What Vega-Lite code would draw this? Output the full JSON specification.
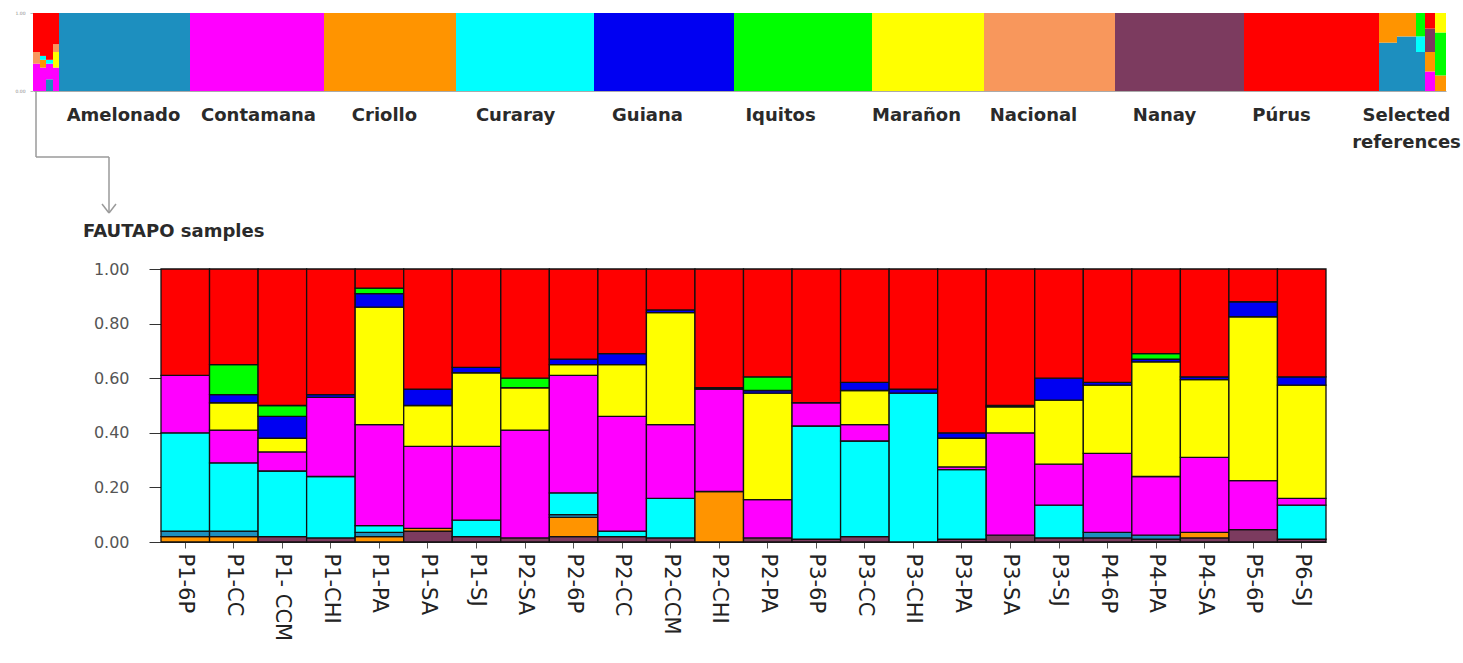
{
  "$schema": "https://vega.github.io/schema/vega-lite/v6.json",
  "padding": {"left": 14, "top": 10, "right": 5, "bottom": 5},
  "autosize": {"type": "pad"},
  "bounds": "flush",
  "spacing": 178,
  "datasets": {
    "clusters": [
      {"cluster": "Nanay", "k": 1},
      {"cluster": "Criollo", "k": 2},
      {"cluster": "Nacional", "k": 3},
      {"cluster": "Amelonado", "k": 4},
      {"cluster": "Curaray", "k": 5},
      {"cluster": "Contamana", "k": 6},
      {"cluster": "Marañon", "k": 7},
      {"cluster": "Guiana", "k": 8},
      {"cluster": "Iquitos", "k": 9},
      {"cluster": "Púrus", "k": 10}
    ],
    "strip": [
      {"col": "m1", "start": 0, "end": 7, "cluster": "Contamana", "q": 0.35},
      {"col": "m1", "start": 0, "end": 7, "cluster": "Nacional", "q": 0.15},
      {"col": "m1", "start": 0, "end": 7, "cluster": "Púrus", "q": 0.50},
      {"col": "m2", "start": 7, "end": 13, "cluster": "Contamana", "q": 0.30},
      {"col": "m2", "start": 7, "end": 13, "cluster": "Criollo", "q": 0.10},
      {"col": "m2", "start": 7, "end": 13, "cluster": "Curaray", "q": 0.05},
      {"col": "m2", "start": 7, "end": 13, "cluster": "Púrus", "q": 0.55},
      {"col": "m3", "start": 13, "end": 20, "cluster": "Amelonado", "q": 0.15},
      {"col": "m3", "start": 13, "end": 20, "cluster": "Contamana", "q": 0.20},
      {"col": "m3", "start": 13, "end": 20, "cluster": "Curaray", "q": 0.05},
      {"col": "m3", "start": 13, "end": 20, "cluster": "Púrus", "q": 0.60},
      {"col": "m4", "start": 20, "end": 26, "cluster": "Contamana", "q": 0.30},
      {"col": "m4", "start": 20, "end": 26, "cluster": "Marañon", "q": 0.20},
      {"col": "m4", "start": 20, "end": 26, "cluster": "Nacional", "q": 0.10},
      {"col": "m4", "start": 20, "end": 26, "cluster": "Púrus", "q": 0.40},
      {"col": "Amelonado", "start": 26, "end": 157, "cluster": "Amelonado", "q": 1},
      {"col": "Contamana", "start": 157, "end": 291, "cluster": "Contamana", "q": 1},
      {"col": "Criollo", "start": 291, "end": 423, "cluster": "Criollo", "q": 1},
      {"col": "Curaray", "start": 423, "end": 561, "cluster": "Curaray", "q": 1},
      {"col": "Guiana", "start": 561, "end": 701, "cluster": "Guiana", "q": 1},
      {"col": "Iquitos", "start": 701, "end": 839, "cluster": "Iquitos", "q": 1},
      {"col": "Marañon", "start": 839, "end": 951, "cluster": "Marañon", "q": 1},
      {"col": "Nacional", "start": 951, "end": 1082, "cluster": "Nacional", "q": 1},
      {"col": "Nanay", "start": 1082, "end": 1211, "cluster": "Nanay", "q": 1},
      {"col": "Púrus", "start": 1211, "end": 1346, "cluster": "Púrus", "q": 1},
      {"col": "s1", "start": 1346, "end": 1364, "cluster": "Amelonado", "q": 0.62},
      {"col": "s1", "start": 1346, "end": 1364, "cluster": "Criollo", "q": 0.38},
      {"col": "s2", "start": 1364, "end": 1383, "cluster": "Amelonado", "q": 0.70},
      {"col": "s2", "start": 1364, "end": 1383, "cluster": "Criollo", "q": 0.30},
      {"col": "s3", "start": 1383, "end": 1392, "cluster": "Amelonado", "q": 0.50},
      {"col": "s3", "start": 1383, "end": 1392, "cluster": "Curaray", "q": 0.20},
      {"col": "s3", "start": 1383, "end": 1392, "cluster": "Iquitos", "q": 0.30},
      {"col": "s4", "start": 1392, "end": 1402, "cluster": "Contamana", "q": 0.25},
      {"col": "s4", "start": 1392, "end": 1402, "cluster": "Criollo", "q": 0.25},
      {"col": "s4", "start": 1392, "end": 1402, "cluster": "Nanay", "q": 0.30},
      {"col": "s4", "start": 1392, "end": 1402, "cluster": "Púrus", "q": 0.20},
      {"col": "s5", "start": 1402, "end": 1413, "cluster": "Criollo", "q": 0.20},
      {"col": "s5", "start": 1402, "end": 1413, "cluster": "Iquitos", "q": 0.55},
      {"col": "s5", "start": 1402, "end": 1413, "cluster": "Marañon", "q": 0.25}
    ],
    "connector": [
      {"start": 3, "end": 3, "y0": 0, "y1": -0.846},
      {"start": 3, "end": 76, "y0": -0.846, "y1": -0.846},
      {"start": 76, "end": 76, "y0": -0.846, "y1": -1.564},
      {"start": 69, "end": 76, "y0": -1.449, "y1": -1.564},
      {"start": 83, "end": 76, "y0": -1.449, "y1": -1.564}
    ],
    "samples": [
      {"sample": "P1-6P", "cluster": "Criollo", "q": 0.02},
      {"sample": "P1-6P", "cluster": "Amelonado", "q": 0.02},
      {"sample": "P1-6P", "cluster": "Curaray", "q": 0.36},
      {"sample": "P1-6P", "cluster": "Contamana", "q": 0.21},
      {"sample": "P1-6P", "cluster": "Púrus", "q": 0.39},
      {"sample": "P1-CC", "cluster": "Criollo", "q": 0.02},
      {"sample": "P1-CC", "cluster": "Amelonado", "q": 0.02},
      {"sample": "P1-CC", "cluster": "Curaray", "q": 0.25},
      {"sample": "P1-CC", "cluster": "Contamana", "q": 0.12},
      {"sample": "P1-CC", "cluster": "Marañon", "q": 0.10},
      {"sample": "P1-CC", "cluster": "Guiana", "q": 0.03},
      {"sample": "P1-CC", "cluster": "Iquitos", "q": 0.11},
      {"sample": "P1-CC", "cluster": "Púrus", "q": 0.35},
      {"sample": "P1- CCM", "cluster": "Nanay", "q": 0.02},
      {"sample": "P1- CCM", "cluster": "Curaray", "q": 0.24},
      {"sample": "P1- CCM", "cluster": "Contamana", "q": 0.07},
      {"sample": "P1- CCM", "cluster": "Marañon", "q": 0.05},
      {"sample": "P1- CCM", "cluster": "Guiana", "q": 0.08},
      {"sample": "P1- CCM", "cluster": "Iquitos", "q": 0.04},
      {"sample": "P1- CCM", "cluster": "Púrus", "q": 0.50},
      {"sample": "P1-CHI", "cluster": "Nanay", "q": 0.015},
      {"sample": "P1-CHI", "cluster": "Curaray", "q": 0.225},
      {"sample": "P1-CHI", "cluster": "Contamana", "q": 0.29},
      {"sample": "P1-CHI", "cluster": "Guiana", "q": 0.01},
      {"sample": "P1-CHI", "cluster": "Púrus", "q": 0.46},
      {"sample": "P1-PA", "cluster": "Criollo", "q": 0.02},
      {"sample": "P1-PA", "cluster": "Amelonado", "q": 0.015},
      {"sample": "P1-PA", "cluster": "Curaray", "q": 0.025},
      {"sample": "P1-PA", "cluster": "Contamana", "q": 0.37},
      {"sample": "P1-PA", "cluster": "Marañon", "q": 0.43},
      {"sample": "P1-PA", "cluster": "Guiana", "q": 0.05},
      {"sample": "P1-PA", "cluster": "Iquitos", "q": 0.02},
      {"sample": "P1-PA", "cluster": "Púrus", "q": 0.07},
      {"sample": "P1-SA", "cluster": "Nanay", "q": 0.04},
      {"sample": "P1-SA", "cluster": "Criollo", "q": 0.01},
      {"sample": "P1-SA", "cluster": "Contamana", "q": 0.30},
      {"sample": "P1-SA", "cluster": "Marañon", "q": 0.15},
      {"sample": "P1-SA", "cluster": "Guiana", "q": 0.06},
      {"sample": "P1-SA", "cluster": "Púrus", "q": 0.44},
      {"sample": "P1-SJ", "cluster": "Nanay", "q": 0.02},
      {"sample": "P1-SJ", "cluster": "Curaray", "q": 0.06},
      {"sample": "P1-SJ", "cluster": "Contamana", "q": 0.27},
      {"sample": "P1-SJ", "cluster": "Marañon", "q": 0.27},
      {"sample": "P1-SJ", "cluster": "Guiana", "q": 0.02},
      {"sample": "P1-SJ", "cluster": "Púrus", "q": 0.36},
      {"sample": "P2-SA", "cluster": "Nanay", "q": 0.015},
      {"sample": "P2-SA", "cluster": "Contamana", "q": 0.395},
      {"sample": "P2-SA", "cluster": "Marañon", "q": 0.155},
      {"sample": "P2-SA", "cluster": "Iquitos", "q": 0.035},
      {"sample": "P2-SA", "cluster": "Púrus", "q": 0.40},
      {"sample": "P2-6P", "cluster": "Nanay", "q": 0.02},
      {"sample": "P2-6P", "cluster": "Criollo", "q": 0.07},
      {"sample": "P2-6P", "cluster": "Amelonado", "q": 0.01},
      {"sample": "P2-6P", "cluster": "Curaray", "q": 0.08},
      {"sample": "P2-6P", "cluster": "Contamana", "q": 0.43},
      {"sample": "P2-6P", "cluster": "Marañon", "q": 0.04},
      {"sample": "P2-6P", "cluster": "Guiana", "q": 0.02},
      {"sample": "P2-6P", "cluster": "Púrus", "q": 0.33},
      {"sample": "P2-CC", "cluster": "Nanay", "q": 0.02},
      {"sample": "P2-CC", "cluster": "Curaray", "q": 0.02},
      {"sample": "P2-CC", "cluster": "Contamana", "q": 0.42},
      {"sample": "P2-CC", "cluster": "Marañon", "q": 0.19},
      {"sample": "P2-CC", "cluster": "Guiana", "q": 0.04},
      {"sample": "P2-CC", "cluster": "Púrus", "q": 0.31},
      {"sample": "P2-CCM", "cluster": "Nanay", "q": 0.015},
      {"sample": "P2-CCM", "cluster": "Curaray", "q": 0.145},
      {"sample": "P2-CCM", "cluster": "Contamana", "q": 0.27},
      {"sample": "P2-CCM", "cluster": "Marañon", "q": 0.41},
      {"sample": "P2-CCM", "cluster": "Guiana", "q": 0.01},
      {"sample": "P2-CCM", "cluster": "Púrus", "q": 0.15},
      {"sample": "P2-CHI", "cluster": "Criollo", "q": 0.185},
      {"sample": "P2-CHI", "cluster": "Contamana", "q": 0.375},
      {"sample": "P2-CHI", "cluster": "Guiana", "q": 0.005},
      {"sample": "P2-CHI", "cluster": "Púrus", "q": 0.435},
      {"sample": "P2-PA", "cluster": "Nanay", "q": 0.015},
      {"sample": "P2-PA", "cluster": "Contamana", "q": 0.14},
      {"sample": "P2-PA", "cluster": "Marañon", "q": 0.39},
      {"sample": "P2-PA", "cluster": "Guiana", "q": 0.01},
      {"sample": "P2-PA", "cluster": "Iquitos", "q": 0.05},
      {"sample": "P2-PA", "cluster": "Púrus", "q": 0.395},
      {"sample": "P3-6P", "cluster": "Nanay", "q": 0.01},
      {"sample": "P3-6P", "cluster": "Curaray", "q": 0.415},
      {"sample": "P3-6P", "cluster": "Contamana", "q": 0.085},
      {"sample": "P3-6P", "cluster": "Púrus", "q": 0.49},
      {"sample": "P3-CC", "cluster": "Nanay", "q": 0.02},
      {"sample": "P3-CC", "cluster": "Curaray", "q": 0.35},
      {"sample": "P3-CC", "cluster": "Contamana", "q": 0.06},
      {"sample": "P3-CC", "cluster": "Marañon", "q": 0.125},
      {"sample": "P3-CC", "cluster": "Guiana", "q": 0.03},
      {"sample": "P3-CC", "cluster": "Púrus", "q": 0.415},
      {"sample": "P3-CHI", "cluster": "Curaray", "q": 0.545},
      {"sample": "P3-CHI", "cluster": "Guiana", "q": 0.015},
      {"sample": "P3-CHI", "cluster": "Púrus", "q": 0.44},
      {"sample": "P3-PA", "cluster": "Nanay", "q": 0.01},
      {"sample": "P3-PA", "cluster": "Curaray", "q": 0.255},
      {"sample": "P3-PA", "cluster": "Contamana", "q": 0.01},
      {"sample": "P3-PA", "cluster": "Marañon", "q": 0.105},
      {"sample": "P3-PA", "cluster": "Guiana", "q": 0.02},
      {"sample": "P3-PA", "cluster": "Púrus", "q": 0.60},
      {"sample": "P3-SA", "cluster": "Nanay", "q": 0.025},
      {"sample": "P3-SA", "cluster": "Contamana", "q": 0.375},
      {"sample": "P3-SA", "cluster": "Marañon", "q": 0.095},
      {"sample": "P3-SA", "cluster": "Guiana", "q": 0.005},
      {"sample": "P3-SA", "cluster": "Púrus", "q": 0.50},
      {"sample": "P3-SJ", "cluster": "Nanay", "q": 0.015},
      {"sample": "P3-SJ", "cluster": "Curaray", "q": 0.12},
      {"sample": "P3-SJ", "cluster": "Contamana", "q": 0.15},
      {"sample": "P3-SJ", "cluster": "Marañon", "q": 0.235},
      {"sample": "P3-SJ", "cluster": "Guiana", "q": 0.08},
      {"sample": "P3-SJ", "cluster": "Púrus", "q": 0.40},
      {"sample": "P4-6P", "cluster": "Nanay", "q": 0.015},
      {"sample": "P4-6P", "cluster": "Amelonado", "q": 0.02},
      {"sample": "P4-6P", "cluster": "Contamana", "q": 0.29},
      {"sample": "P4-6P", "cluster": "Marañon", "q": 0.25},
      {"sample": "P4-6P", "cluster": "Guiana", "q": 0.01},
      {"sample": "P4-6P", "cluster": "Púrus", "q": 0.415},
      {"sample": "P4-PA", "cluster": "Nanay", "q": 0.01},
      {"sample": "P4-PA", "cluster": "Amelonado", "q": 0.015},
      {"sample": "P4-PA", "cluster": "Contamana", "q": 0.215},
      {"sample": "P4-PA", "cluster": "Marañon", "q": 0.42},
      {"sample": "P4-PA", "cluster": "Guiana", "q": 0.01},
      {"sample": "P4-PA", "cluster": "Iquitos", "q": 0.02},
      {"sample": "P4-PA", "cluster": "Púrus", "q": 0.31},
      {"sample": "P4-SA", "cluster": "Nanay", "q": 0.015},
      {"sample": "P4-SA", "cluster": "Criollo", "q": 0.02},
      {"sample": "P4-SA", "cluster": "Contamana", "q": 0.275},
      {"sample": "P4-SA", "cluster": "Marañon", "q": 0.285},
      {"sample": "P4-SA", "cluster": "Guiana", "q": 0.01},
      {"sample": "P4-SA", "cluster": "Púrus", "q": 0.395},
      {"sample": "P5-6P", "cluster": "Nanay", "q": 0.045},
      {"sample": "P5-6P", "cluster": "Contamana", "q": 0.18},
      {"sample": "P5-6P", "cluster": "Marañon", "q": 0.60},
      {"sample": "P5-6P", "cluster": "Guiana", "q": 0.055},
      {"sample": "P5-6P", "cluster": "Púrus", "q": 0.12},
      {"sample": "P6-SJ", "cluster": "Nanay", "q": 0.01},
      {"sample": "P6-SJ", "cluster": "Curaray", "q": 0.125},
      {"sample": "P6-SJ", "cluster": "Contamana", "q": 0.025},
      {"sample": "P6-SJ", "cluster": "Marañon", "q": 0.415},
      {"sample": "P6-SJ", "cluster": "Guiana", "q": 0.03},
      {"sample": "P6-SJ", "cluster": "Púrus", "q": 0.395}
    ]
  },
  "vconcat": [
    {
      "width": 1413,
      "height": 78,
      "layer": [
        {
          "data": {"name": "strip"},
          "transform": [
            {"stack": "q", "groupby": ["col"], "sort": [{"field": "cluster", "order": "ascending"}], "as": ["y0", "y1"]}
          ],
          "mark": {"type": "rect"},
          "encoding": {
            "x": {
              "field": "start", "type": "quantitative",
              "scale": {"domain": [0, 1413], "nice": false, "zero": false},
              "axis": {
                "title": null, "grid": false, "ticks": false,
                "values": [90, 225, 351, 482, 614, 747, 883, 1000, 1131, 1248, 1373],
                "labelExpr": "['Amelonado','Contamana','Criollo','Curaray','Guiana','Iquitos','Marañon','Nacional','Nanay','Púrus',['Selected','references']][indexof([90,225,351,482,614,747,883,1000,1131,1248,1373], datum.value)]",
                "labelFont": "DejaVu Sans", "labelFontSize": 18, "labelFontWeight": "bold",
                "labelColor": "#2a2a2a", "labelPadding": 15, "labelLineHeight": 27,
                "labelOverlap": false, "labelFlush": false, "labelBound": false,
                "domainColor": "#aaaaaa", "domainWidth": 1
              }
            },
            "x2": {"field": "end"},
            "y": {
              "field": "y0", "type": "quantitative",
              "scale": {"domain": [0, 1], "nice": false, "zero": false},
              "axis": {
                "title": null, "grid": false, "domain": false,
                "values": [0, 0.2, 0.4, 0.6, 0.8, 1], "format": ".2f",
                "labelFontSize": 4.5, "labelColor": "#888888",
                "tickSize": 3, "tickColor": "#bbbbbb", "labelPadding": 5
              }
            },
            "y2": {"field": "y1"},
            "color": {
              "field": "cluster", "type": "nominal", "legend": null,
              "scale": {
                "domain": ["Amelonado", "Contamana", "Criollo", "Curaray", "Guiana", "Iquitos", "Marañon", "Nacional", "Nanay", "Púrus"],
                "range": ["#1d8fbf", "#ff00ff", "#ff9400", "#00ffff", "#0000f2", "#00ff00", "#ffff00", "#f8975c", "#7c3b5f", "#ff0000"]
              }
            }
          }
        },
        {
          "data": {"name": "connector"},
          "mark": {"type": "rule", "color": "#9a9a9a", "strokeWidth": 1.5},
          "encoding": {
            "x": {"field": "start", "type": "quantitative"},
            "x2": {"field": "end"},
            "y": {"field": "y0", "type": "quantitative"},
            "y2": {"field": "y1"}
          }
        }
      ]
    },
    {
      "bounds": "flush",
      "spacing": 0,
      "hconcat": [
        {
          "width": 128,
          "height": 273,
          "data": {"values": [{"z": 0}]},
          "mark": {"type": "point", "opacity": 0},
          "encoding": {}
        },
        {
          "width": 1165,
          "height": 273,
          "data": {"name": "samples"},
          "transform": [
            {"lookup": "cluster", "from": {"data": {"name": "clusters"}, "key": "cluster", "fields": ["k"]}}
          ],
          "title": {
            "text": "FAUTAPO samples", "anchor": "start", "frame": "group", "dx": -78,
            "font": "DejaVu Sans", "fontSize": 18, "fontWeight": "bold", "color": "#2a2a2a", "offset": 20
          },
          "mark": {"type": "bar", "stroke": "#111111", "strokeWidth": 1.3},
          "encoding": {
            "x": {
              "field": "sample", "type": "nominal", "sort": null,
              "scale": {"paddingInner": 0, "paddingOuter": 0},
              "axis": {
                "title": null, "labelAngle": 90, "labelFont": "DejaVu Sans", "labelFontSize": 21,
                "labelColor": "#222222", "tickSize": 6, "tickColor": "#555555", "labelPadding": 5,
                "domainColor": "#333333", "labelOverlap": false
              }
            },
            "y": {
              "field": "q", "type": "quantitative", "stack": "zero",
              "scale": {"domain": [0, 1], "nice": false},
              "axis": {
                "title": null, "grid": false, "values": [0, 0.2, 0.4, 0.6, 0.8, 1], "format": ".2f",
                "labelFont": "DejaVu Sans", "labelFontSize": 16, "labelColor": "#555555",
                "tickSize": 12, "tickColor": "#333333", "labelPadding": 20, "domainColor": "#333333"
              }
            },
            "color": {
              "field": "cluster", "type": "nominal", "legend": null
            },
            "order": {"field": "k", "type": "quantitative"}
          }
        }
      ]
    }
  ],
  "config": {
    "view": {"stroke": null},
    "font": "DejaVu Sans"
  }
}
